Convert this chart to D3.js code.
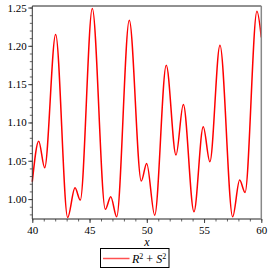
<!DOCTYPE html>
<html>
<head>
<meta charset="utf-8">
<script src="https://cdn.jsdelivr.net/npm/d3@7"></script>
<style>
  body { margin: 0; background: #fff; }
  svg { display: block; }
  text { font-family: "Liberation Serif", "DejaVu Serif", serif; }
</style>
</head>
<body>
<figure id="chart" style="margin:0"></figure>
<script>
// curve samples (turning points mostly)
const xValues = [40, 40.56, 41.08, 42.04, 43.09, 43.73, 44.19, 45.24, 46.38, 46.85, 47.37, 48.47,
  49.52, 49.99, 50.69, 51.70, 52.55, 53.19, 54.12, 54.93, 55.51, 56.39, 57.50, 58.11, 58.58, 59.62, 60];
const yValues = [1.0226, 1.0756, 1.041, 1.2148, 0.976, 1.0147, 0.9987, 1.2487, 0.9866, 1.003, 0.977, 1.2334,
  1.0235, 1.0466, 0.979, 1.1747, 1.0574, 1.1235, 0.9834, 1.0943, 1.0487, 1.2008, 0.977, 1.0248, 1.0087, 1.2452, 1.2109];
const xTicks = [40, 45, 50, 55, 60];
const yTicks = [1.00, 1.05, 1.10, 1.15, 1.20, 1.25];
const seriesName = ["R", "S"];

const width = 270, height = 274;
const plotLeft = 32.3, plotRight = 261.3, plotTop = 6, plotBottom = 219;

const svg = d3.select("#chart").append("svg")
  .attr("width", width)
  .attr("height", height);

const x = d3.scaleLinear().domain([40, 60]).range([plotLeft, plotRight]);
const y = d3.scaleLinear().domain([0.974, 1.252]).range([plotBottom, plotTop]);

// minor ticks
svg.append("g")
  .attr("transform", "translate(0," + plotBottom + ")")
  .call(d3.axisBottom(x).tickValues(d3.range(40, 61, 1)).tickSize(2.5).tickFormat(""))
  .call(g => g.select(".domain").remove())
  .selectAll("line").attr("stroke", "#666");

svg.append("g")
  .attr("transform", "translate(" + plotLeft + ",0)")
  .call(d3.axisLeft(y).tickValues(d3.range(0.98, 1.251, 0.01)).tickSize(2.5).tickFormat(""))
  .call(g => g.select(".domain").remove())
  .selectAll("line").attr("stroke", "#666");

// major ticks and labels
svg.append("g")
  .attr("transform", "translate(0," + plotBottom + ")")
  .call(d3.axisBottom(x).tickValues(xTicks).tickSize(4).tickPadding(3).tickFormat(d3.format("d")))
  .call(g => g.select(".domain").remove())
  .call(g => g.selectAll("line").attr("stroke", "#444"))
  .selectAll("text")
  .attr("font-size", 11)
  .attr("font-family", "Liberation Serif")
  .attr("fill", "#000");

svg.append("g")
  .attr("transform", "translate(" + plotLeft + ",0)")
  .call(d3.axisLeft(y).tickValues(yTicks).tickSize(4).tickPadding(1.5).tickFormat(d3.format(".2f")))
  .call(g => g.select(".domain").remove())
  .call(g => g.selectAll("line").attr("stroke", "#444"))
  .selectAll("text")
  .attr("font-size", 11)
  .attr("font-family", "Liberation Serif")
  .attr("fill", "#000");

// the curve
const line = d3.line()
  .x(d => x(d[0]))
  .y(d => y(d[1]))
  .curve(d3.curveMonotoneX);

svg.append("path")
  .datum(d3.zip(xValues, yValues))
  .attr("fill", "none")
  .attr("stroke", "#ff0000")
  .attr("stroke-width", 1.5)
  .attr("d", line);

// frame
svg.append("line").attr("x1", plotLeft).attr("x2", plotRight).attr("y1", plotTop).attr("y2", plotTop).attr("stroke", "#222");
svg.append("line").attr("x1", plotLeft).attr("x2", plotRight).attr("y1", plotBottom).attr("y2", plotBottom).attr("stroke", "#222");
svg.append("line").attr("x1", plotLeft).attr("x2", plotLeft).attr("y1", plotTop).attr("y2", plotBottom).attr("stroke", "#333");
svg.append("line").attr("x1", plotRight).attr("x2", plotRight).attr("y1", plotTop).attr("y2", plotBottom).attr("stroke", "#888").attr("stroke-width", 1.5);

// axis title
svg.append("text")
  .attr("x", (plotLeft + plotRight) / 2)
  .attr("y", 246)
  .attr("text-anchor", "middle")
  .attr("font-size", 12)
  .attr("font-style", "italic")
  .text("x");

// legend
const lg = svg.append("g");
lg.append("rect")
  .attr("x", 100.5).attr("y", 248.5)
  .attr("width", 68.5).attr("height", 19)
  .attr("fill", "#fff")
  .attr("stroke", "#000");
lg.append("line")
  .attr("x1", 103).attr("x2", 129.5)
  .attr("y1", 258.5).attr("y2", 258.5)
  .attr("stroke", "#ff5050")
  .attr("stroke-width", 1.5);
const lt = lg.append("text")
  .attr("x", 132).attr("y", 263)
  .attr("font-size", 12)
  .attr("font-style", "italic");
lt.append("tspan").text(seriesName[0]);
lt.append("tspan").attr("font-size", 8).attr("dy", -4.5).attr("font-style", "normal").text("2");
lt.append("tspan").attr("dy", 4.5).attr("font-style", "normal").text(" + ");
lt.append("tspan").text(seriesName[1]);
lt.append("tspan").attr("font-size", 8).attr("dy", -4.5).attr("font-style", "normal").text("2");
</script>
</body>
</html>
